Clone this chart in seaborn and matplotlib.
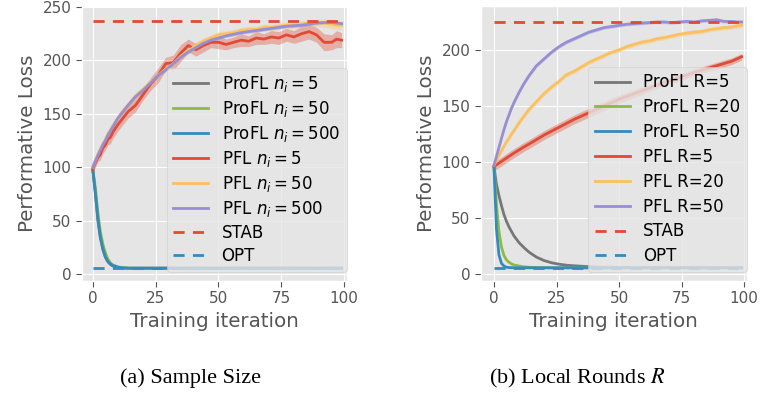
import numpy as np
import pandas as pd
import matplotlib
matplotlib.use("Agg")
import matplotlib.pyplot as plt
import seaborn as sns

plt.style.use("ggplot")

# ---------------- data ----------------
iters = [0, 1, 2, 3, 4, 5, 6, 7, 8, 10, 12, 14, 17, 20, 23, 26, 29, 32, 35, 38,
         41, 44, 47, 50, 53, 56, 59, 62, 65, 68, 71, 74, 77, 80, 83, 86, 89, 92, 95, 97, 99]

# Panel (a): sample size
a_profl_5 = [98, 76, 51, 34, 23, 16, 11.5, 9, 7.5, 6.2, 5.7, 5.5, 5.5, 5.5, 5.5, 5.5, 5.5, 5.5, 5.5, 5.5,
             5.5, 5.5, 5.5, 5.5, 5.5, 5.5, 5.5, 5.5, 5.5, 5.5, 5.5, 5.5, 5.5, 5.5, 5.5, 5.5, 5.5, 5.5, 5.5, 5.5, 5.5]
a_profl_50 = [98, 81, 58, 40, 28, 20, 14, 10.5, 8.5, 6.6, 5.9, 5.6, 5.5, 5.5, 5.5, 5.5, 5.5, 5.5, 5.5, 5.5,
              5.5, 5.5, 5.5, 5.5, 5.5, 5.5, 5.5, 5.5, 5.5, 5.5, 5.5, 5.5, 5.5, 5.5, 5.5, 5.5, 5.5, 5.5, 5.5, 5.5, 5.5]
a_profl_500 = [98, 77, 52, 35, 24, 16, 12, 9.5, 8, 6.5, 5.8, 5.5, 5.5, 5.5, 5.5, 5.5, 5.5, 5.5, 5.5, 5.5,
               5.5, 5.5, 5.5, 5.5, 5.5, 5.5, 5.5, 5.5, 5.5, 5.5, 5.5, 5.5, 5.5, 5.5, 5.5, 5.5, 5.5, 5.5, 5.5, 5.5, 5.5]
a_pfl_5 = [98, 104, 109, 112, 118, 121, 126, 128, 133, 140, 146, 152, 158, 168, 178, 186, 197, 198, 207, 214,
           210, 214, 217, 217, 215, 217, 219, 218, 221, 220, 222, 221, 224, 222, 225, 227, 224, 217, 217, 220, 219]
a_pfl_50 = [100, 106, 112, 117, 122, 126, 131, 135, 139, 146, 153, 158, 167, 173, 180, 186, 192, 197, 204, 209,
            214, 218, 221, 224, 225, 226, 228, 229, 229, 231, 231, 232, 233, 233, 234, 235, 235, 235, 234, 233, 233]
a_pfl_500 = [100, 106, 111, 116, 121, 125, 130, 134, 138, 146, 152, 158, 166, 172, 179, 186, 191, 197, 203, 208,
             212, 216, 219, 221, 223, 224.5, 226, 227, 228, 229, 230, 231, 232, 232.5, 233, 234, 235, 235.5, 235.5, 235, 234.5]
a_pfl_5_err = [3, 4, 4, 5, 5, 5, 5, 6, 6, 6, 6, 6, 6, 5, 6, 7, 6, 7, 8, 6,
               6, 6, 5, 6, 5, 5, 6, 5, 6, 5, 6, 6, 6, 6, 7, 7, 7, 8, 7, 8, 7]
a_pfl_50_err = [2, 2, 2, 3, 3, 3, 3, 3, 3, 3, 3, 3, 3, 3, 3, 3, 3, 3, 3, 3,
                3, 3, 3, 3, 3, 3, 3, 3, 3, 3, 3, 3, 3, 3, 3, 3, 3, 4, 4, 4, 4]
a_pfl_500_err = [1.5] * 41
a_stab = 237
a_opt = 5.5

# Panel (b): local rounds R
b_profl_5 = [96, 80, 70, 61, 53, 47, 42, 38, 34, 28, 23.5, 19.5, 15, 12, 10, 8.7, 7.8, 7.3, 6.9, 6.5,
             6.2, 6.0, 5.9, 5.8, 5.7, 5.7, 5.6, 5.6, 5.6, 5.6, 5.6, 5.6, 5.6, 5.6, 5.6, 5.6, 5.6, 5.6, 5.6, 5.6, 5.6]
b_profl_20 = [96, 62, 38, 24, 16.5, 12.5, 10.5, 9, 8, 7.1, 6.4, 6, 5.7, 5.6, 5.5, 5.5, 5.5, 5.5, 5.5, 5.5,
              5.5, 5.5, 5.5, 5.5, 5.5, 5.5, 5.5, 5.5, 5.5, 5.5, 5.5, 5.5, 5.5, 5.5, 5.5, 5.5, 5.5, 5.5, 5.5, 5.5, 5.5]
b_profl_50 = [96, 40, 17, 9.5, 7, 6, 5.7, 5.6, 5.5, 5.5, 5.5, 5.5, 5.5, 5.5, 5.5, 5.5, 5.5, 5.5, 5.5, 5.5,
              5.5, 5.5, 5.5, 5.5, 5.5, 5.5, 5.5, 5.5, 5.5, 5.5, 5.5, 5.5, 5.5, 5.5, 5.5, 5.5, 5.5, 5.5, 5.5, 5.5, 5.5]
b_pfl_5 = [96, 97.5, 99, 100.5, 102, 103.5, 105, 106.5, 108, 110.7, 113.5, 116, 120, 124, 127.5, 131, 134.5, 138, 141, 144,
           147, 150, 153, 156, 158.5, 161, 163.5, 166, 168.5, 171, 173, 175.5, 177.5, 180, 182, 184, 186, 188, 190, 192, 194]
b_pfl_20 = [97, 102, 106, 110, 114, 118, 121, 125, 128, 135, 141, 147, 154, 161, 167, 172, 178, 181, 185, 189,
            192, 195, 198, 200, 203, 205, 207, 208, 210, 211, 212.5, 214, 215, 216, 216.5, 218, 219, 220, 220.5, 221.5, 222]
b_pfl_50 = [97, 105, 113, 121, 129, 136, 142, 148, 153, 162, 170, 177, 186, 192, 198, 203, 207, 210, 213, 216,
            218, 220, 221, 222, 223, 223.5, 224, 224.5, 225, 225, 224.5, 225, 225.5, 225, 226, 226.5, 227, 225.5, 225.5, 225, 225]
b_pfl_5_err = [4, 4, 4, 4, 4, 4, 4, 4, 4, 4, 4, 4, 4, 4, 4, 4, 4, 4, 4, 4,
               4, 4, 4, 3.5, 3.5, 3.5, 3.5, 3, 3, 3, 3, 3, 3, 3, 3, 3, 3, 3, 3, 3, 3]
b_pfl_20_err = [2] * 41
b_pfl_50_err = [1.5] * 41
b_stab = 225
b_opt = 5.5

a_labels = [r"ProFL $n_i=5$", r"ProFL $n_i=50$", r"ProFL $n_i=500$",
            r"PFL $n_i=5$", r"PFL $n_i=50$", r"PFL $n_i=500$"]
b_labels = ["ProFL R=5", "ProFL R=20", "ProFL R=50", "PFL R=5", "PFL R=20", "PFL R=50"]

colors = ["#777777", "#8EBA42", "#348ABD", "#E24A33", "#FBC15E", "#988ED5"]
xticks = [0, 25, 50, 75, 100]

# ---------------- figure ----------------
fig = plt.figure(figsize=(7.61, 3.94), dpi=100)
ax1 = fig.add_axes([0.1074, 0.2868, 0.3482, 0.6980])
ax2 = fig.add_axes([0.6320, 0.2868, 0.3492, 0.6980])


def draw(ax, series, errs, labels, stab, opt, ylim, xlim, yticks, lspace):
    x = np.array(iters)
    for i, (y, lab) in enumerate(zip(series, labels)):
        y = np.array(y, dtype=float)
        if errs[i] is not None:
            e = np.array(errs[i], dtype=float)
            ax.fill_between(x, y - e, y + e, color=colors[i], alpha=0.35, lw=0)
        sns.lineplot(x=x, y=y, ax=ax, color=colors[i], lw=2, label=lab, errorbar=None)
    sns.lineplot(x=[iters[0], iters[-1]], y=[stab, stab], ax=ax, color="#E24A33",
                 lw=2, label="STAB")
    ax.lines[-1].set_linestyle((0, (4, 3)))
    sns.lineplot(x=[iters[0], iters[-1]], y=[opt, opt], ax=ax, color="#348ABD",
                 lw=2, label="OPT")
    ax.lines[-1].set_linestyle((0, (4, 3)))
    ax.set_xlim(*xlim)
    ax.set_ylim(*ylim)
    ax.set_xticks(xticks)
    ax.set_yticks(yticks)
    ax.tick_params(labelsize=11, colors="#555555", length=4)
    ax.set_xlabel("Training iteration", fontsize=14.3, color="#555555")
    ax.set_ylabel("Performative Loss", fontsize=14.3, color="#555555")
    leg = ax.legend(loc="lower right", bbox_to_anchor=(1.0, 0.033), borderaxespad=0,
                    fontsize=12, handlelength=2.1, framealpha=0.8, labelspacing=lspace)
    for h in leg.get_lines():
        h.set_linewidth(2)


draw(ax1, [a_profl_5, a_profl_50, a_profl_500, a_pfl_5, a_pfl_50, a_pfl_500],
     [None, None, None, a_pfl_5_err, a_pfl_50_err, a_pfl_500_err],
     a_labels, a_stab, a_opt, (-6.5, 251), (-4.4, 101), [0, 50, 100, 150, 200, 250], 0.30)
draw(ax2, [b_profl_5, b_profl_20, b_profl_50, b_pfl_5, b_pfl_20, b_pfl_50],
     [None, None, None, b_pfl_5_err, b_pfl_20_err, b_pfl_50_err],
     b_labels, b_stab, b_opt, (-6.3, 239.3), (-5.2, 101), [0, 50, 100, 150, 200], 0.41)

fig.text(190 / 761, 1 - 378 / 394, "(a) Sample Size", ha="center", va="center",
         fontsize=16, family="Liberation Serif", color="black")
fig.text(577 / 761, 1 - 378 / 394, "(b) Local Rounds $R$", ha="center", va="center",
         fontsize=16, family="Liberation Serif", math_fontfamily="stix", color="black")

fig.savefig("out.png", dpi=100, facecolor="white")
